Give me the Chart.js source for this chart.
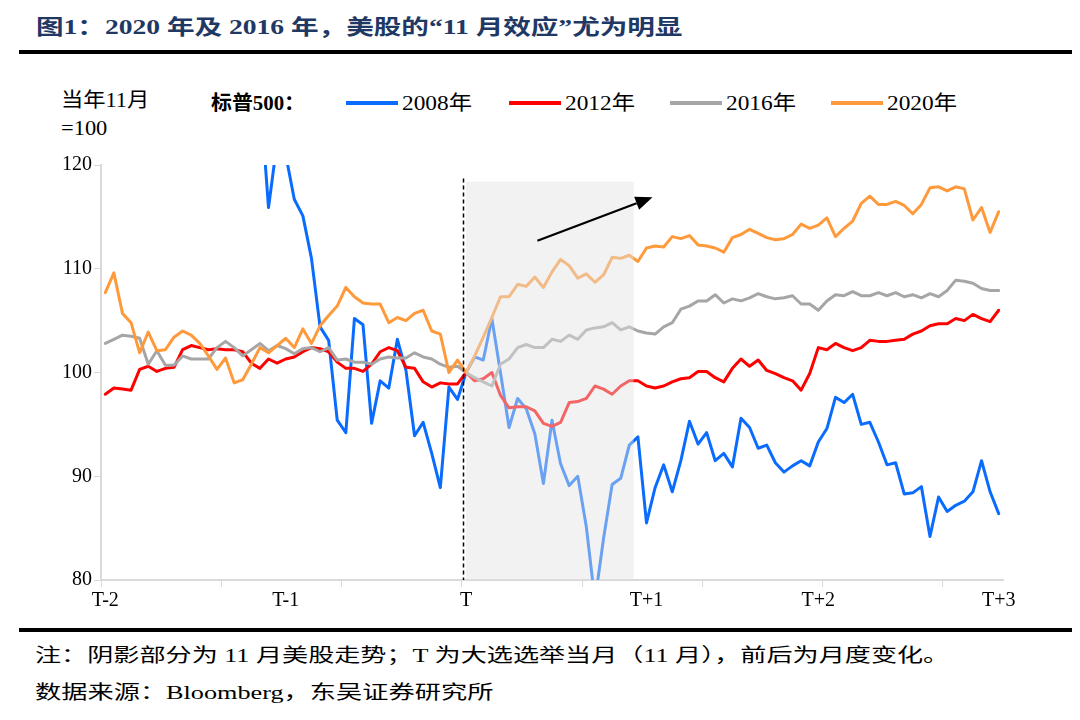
<!DOCTYPE html>
<html>
<head>
<meta charset="utf-8">
<script src="https://cdn.jsdelivr.net/npm/chart.js@4.4.0/dist/chart.umd.min.js"></script>
<style>
  body { margin: 0; background: #fff; }
  #wrap { position: relative; width: 1080px; height: 720px; overflow: hidden; font-family: "Liberation Serif", "Noto Sans CJK SC", serif; color: #000; }
  .txt { position: absolute; white-space: nowrap; transform-origin: 0 50%; line-height: 1; }
  .rule { position: absolute; left: 19px; width: 1053px; height: 4px; background: #000; }
  .key { position: absolute; height: 4px; top: 101px; width: 52px; }
  #chartBox { position: absolute; left: 0; top: 140px; width: 1080px; height: 480px; }
</style>
</head>
<body>
<div id="wrap">
  <div class="txt" data-x="36" data-y="27" data-w="646" style="font-size:21px;font-weight:bold;color:#1f3864;">图1：2020 年及 2016 年，美股的“11 月效应”尤为明显</div>
  <div class="rule" style="top:50px;"></div>
  <div class="txt" data-x="61" data-y="100" data-w="88" style="font-size:20px;">当年11月</div>
  <div class="txt" data-x="61" data-y="128" data-w="46" style="font-size:20px;">=100</div>
  <div class="txt" data-x="211" data-y="103" data-w="94" style="font-size:20px;font-weight:bold;">标普500：</div>
  <div id="legend"></div>
  <div id="chartBox"><canvas id="spxChart" width="1080" height="480"></canvas></div>
  <div class="rule" style="top:628px;"></div>
  <div class="txt" data-x="35" data-y="655" data-w="914" style="font-size:19px;">注：阴影部分为 11 月美股走势；T 为大选选举当月（11 月），前后为月度变化。</div>
  <div class="txt" data-x="35" data-y="692" data-w="458" style="font-size:19px;">数据来源：Bloomberg，东吴证券研究所</div>
</div>
<script>
// trading days from T-2 to T+3, index 42 = election month start (=100)
var dayCount = 105;
var tickLabels = ['T-2', 'T-1', 'T', 'T+1', 'T+2', 'T+3'];
var tickIndex = [0, 21, 42, 63, 83, 104];
var seriesNames = ['2008年', '2012年', '2016年', '2020年'];

var spx2008 = [
    133.8, 133.5, 129.5, 130.1, 132.8, 128.2, 129.0, 130.8, 131.1, 124.9,
    127.1, 121.1, 126.4, 131.4, 126.4, 124.4, 124.2, 126.6, 127.1, 115.9,
    122.2, 121.0, 116.7, 115.1, 111.0, 104.4, 103.1, 95.4, 94.2, 105.2,
    104.6, 95.1, 99.2, 98.5, 103.2, 100.2, 93.9, 95.2, 92.2, 88.9,
    98.6, 97.4, 100.0, 101.5, 101.2, 105.2, 100.0, 94.7, 97.5, 96.5,
    94.1, 89.3, 95.4, 91.2, 89.1, 90.0, 85.1, 78.0, 84.0, 89.2,
    89.8, 93.0, 93.8, 85.5, 88.9, 91.1, 88.5, 91.5, 95.3, 93.1,
    94.2, 91.5, 92.2, 90.9, 95.6, 94.7, 92.7, 93.0, 91.3, 90.4,
    91.0, 91.5, 91.0, 93.3, 94.6, 97.6, 97.1, 97.9, 95.0, 95.2,
    93.3, 91.1, 91.3, 88.3, 88.4, 89.0, 84.2, 88.0, 86.6, 87.2,
    87.6, 88.5, 91.5, 88.5, 86.4
];
var spx2012 = [
    97.9, 98.5, 98.4, 98.3, 100.3, 100.6, 100.1, 100.4, 100.5, 102.2,
    102.6, 102.4, 102.2, 102.3, 102.2, 102.2, 102.0, 100.9, 100.4, 101.3,
    100.9, 101.3, 101.5, 102.0, 102.4, 102.3, 102.0, 101.0, 100.4, 100.4,
    100.1, 100.8, 102.0, 102.4, 102.1, 100.5, 100.4, 99.1, 98.6, 99.0,
    98.9, 98.9, 100.0, 99.2, 99.4, 100.0, 97.8, 96.6, 96.7, 96.7,
    96.3, 95.1, 94.8, 95.2, 97.1, 97.2, 97.5, 98.7, 98.4, 97.9,
    98.7, 99.2, 99.2, 98.7, 98.5, 98.7, 99.1, 99.4, 99.5, 100.1,
    100.1, 99.5, 99.1, 100.4, 101.3, 100.6, 101.2, 100.2, 99.9, 99.5,
    99.2, 98.3, 99.9, 102.4, 102.2, 102.8, 102.4, 102.1, 102.4, 103.1,
    103.0, 103.0, 103.1, 103.2, 103.7, 104.0, 104.5, 104.7, 104.7, 105.2,
    105.0, 105.6, 105.2, 104.9, 106.0
];
var spx2016 = [
    102.8, 103.2, 103.6, 103.5, 103.3, 100.8, 102.1, 100.7, 100.7, 101.6,
    101.3, 101.3, 101.3, 102.4, 103.0, 102.4, 101.6, 102.2, 102.8, 102.1,
    102.6, 102.3, 101.8, 102.3, 102.4, 102.0, 102.4, 101.2, 101.3, 101.0,
    101.0, 100.8, 101.3, 101.5, 101.4, 101.4, 101.9, 101.5, 101.3, 100.8,
    100.5, 100.6, 100.0, 99.5, 99.1, 98.7, 100.8, 101.3, 102.4, 102.7,
    102.4, 102.4, 103.2, 103.0, 103.6, 103.2, 104.1, 104.3, 104.4, 104.8,
    104.1, 104.4, 104.0, 103.8, 103.7, 104.4, 104.8, 106.1, 106.4, 106.9,
    106.9, 107.5, 106.7, 107.1, 106.9, 107.2, 107.6, 107.3, 107.1, 107.2,
    107.4, 106.6, 106.6, 106.0, 106.9, 107.5, 107.4, 107.8, 107.4, 107.4,
    107.7, 107.4, 107.7, 107.3, 107.5, 107.2, 107.6, 107.3, 107.9, 108.9,
    108.8, 108.6, 108.1, 107.9, 107.9
];
var spx2020 = [
    107.7, 109.6, 105.7, 104.8, 101.9, 103.9, 102.1, 102.2, 103.4, 104.0,
    103.6, 102.8, 101.6, 100.3, 101.4, 99.0, 99.3, 100.8, 102.4, 101.9,
    102.6, 103.3, 102.4, 104.2, 102.8, 104.5, 105.5, 106.4, 108.2, 107.3,
    106.7, 106.6, 106.6, 104.8, 105.3, 105.0, 105.7, 106.0, 104.0, 103.7,
    100.0, 101.2, 100.0, 101.6, 103.4, 105.3, 107.3, 107.3, 108.5, 108.3,
    109.2, 108.2, 109.7, 110.9, 110.3, 109.1, 109.5, 108.7, 109.4, 111.1,
    111.0, 111.3, 110.7, 112.0, 112.2, 112.1, 113.1, 112.9, 113.2, 112.3,
    112.2, 112.0, 111.6, 113.0, 113.3, 113.8, 113.4, 113.0, 112.8, 112.9,
    113.3, 114.3, 113.9, 114.2, 114.9, 113.1, 113.9, 114.6, 116.3, 117.0,
    116.2, 116.2, 116.5, 116.1, 115.3, 116.2, 117.8, 117.9, 117.5, 117.9,
    117.7, 114.7, 115.9, 113.5, 115.5
];

// November window (shaded), election line and trend arrow, in data units
var shadeFrom = 42, shadeTo = 61.5, shadeTop = 118.4;
var electionAt = 41.65, electionTop = 118.7;
var arrowFrom = [50.3, 112.7], arrowTo = [63.7, 116.9];

var lineColors = ['#0a6cff', '#ff0000', '#a6a6a6', '#ff9a3c'];

var labels = [];
for (var i = 0; i < dayCount; i++) {
    var k = tickIndex.indexOf(i);
    labels.push(k >= 0 ? tickLabels[k] : '');
}

var novemberPlugin = {
    id: 'november',
    afterDatasetsDraw: function (chart) {
        var xs = chart.scales.x, ys = chart.scales.y, ctx = chart.ctx, area = chart.chartArea;
        ctx.save();
        // grey box over the lines
        var x0 = xs.getPixelForValue(shadeFrom), x1 = xs.getPixelForValue(shadeTo);
        var y0 = ys.getPixelForValue(shadeTop);
        ctx.fillStyle = 'rgba(226,226,226,0.45)';
        ctx.fillRect(x0, y0, x1 - x0, area.bottom - y0);

        // dashed election line
        var xd = Math.round(xs.getPixelForValue(electionAt)) + 0.5;
        ctx.setLineDash([4, 3]);
        ctx.lineWidth = 1.5;
        ctx.strokeStyle = '#000';
        ctx.beginPath();
        ctx.moveTo(xd, ys.getPixelForValue(electionTop));
        ctx.lineTo(xd, area.bottom);
        ctx.stroke();
        ctx.setLineDash([]);

        // arrow
        var ax = xs.getPixelForValue(arrowFrom[0]), ay = ys.getPixelForValue(arrowFrom[1]);
        var bx = xs.getPixelForValue(arrowTo[0]), by = ys.getPixelForValue(arrowTo[1]);
        var ang = Math.atan2(by - ay, bx - ax);
        var headLen = 17, headW = 7;
        var hx = bx - headLen * Math.cos(ang), hy = by - headLen * Math.sin(ang);
        ctx.lineWidth = 2.2;
        ctx.beginPath();
        ctx.moveTo(ax, ay);
        ctx.lineTo(hx, hy);
        ctx.stroke();
        ctx.fillStyle = '#000';
        ctx.beginPath();
        ctx.moveTo(bx, by);
        ctx.lineTo(hx + headW * Math.sin(ang), hy - headW * Math.cos(ang));
        ctx.lineTo(hx - headW * Math.sin(ang), hy + headW * Math.cos(ang));
        ctx.closePath();
        ctx.fill();
        ctx.restore();
    }
};

var allSeries = [spx2008, spx2012, spx2016, spx2020];
var datasets = allSeries.map(function (s, n) {
    return {
        label: seriesNames[n],
        data: s,
        borderColor: lineColors[n],
        backgroundColor: lineColors[n],
        borderWidth: 3,
        pointRadius: 0,
        tension: 0,
        borderJoinStyle: 'round',
        borderCapStyle: 'round',
        order: 3 - n
    };
});

// legend row
var legendX = [346, 509, 670, 831];
var legendBox = document.getElementById('legend');
datasets.forEach(function (d, n) {
    var key = document.createElement('div');
    key.className = 'key';
    key.style.left = legendX[n] + 'px';
    key.style.background = d.borderColor;
    legendBox.appendChild(key);
    var t = document.createElement('div');
    t.className = 'txt';
    t.style.fontSize = '20px';
    t.dataset.x = legendX[n] + 56;
    t.dataset.y = 103;
    t.dataset.w = 70;
    t.textContent = d.label;
    legendBox.appendChild(t);
});

function fitText() {
    document.querySelectorAll('.txt').forEach(function (el) {
        el.style.left = el.dataset.x + 'px';
        el.style.top = el.dataset.y + 'px';
        var k = (+el.dataset.w) / el.offsetWidth;
        el.style.transform = 'translateY(-50%) scaleX(' + k.toFixed(3) + ')';
    });
}

var tickFont = { family: "'Liberation Serif', serif", size: 20 };

var ctx = document.getElementById('spxChart').getContext('2d');
window.spxChart = new Chart(ctx, {
    type: 'line',
    data: { labels: labels, datasets: datasets },
    options: {
        responsive: false,
        animation: false,
        layout: { padding: { top: 25, right: 77, left: 0, bottom: 0 } },
        plugins: {
            legend: { display: false },
            tooltip: { enabled: false }
        },
        scales: {
            x: {
                offset: true,
                afterFit: function (scale) { scale.height = 40; },
                border: { color: '#d9d9d9', width: 2 },
                grid: {
                    offset: true,
                    drawOnChartArea: false,
                    tickLength: 7,
                    color: function (c) { return c.index % 14 === 0 ? '#d9d9d9' : 'rgba(0,0,0,0)'; }
                },
                ticks: { autoSkip: false, maxRotation: 0, color: '#000', font: tickFont, padding: 2 }
            },
            y: {
                min: 80,
                max: 120,
                afterFit: function (scale) { scale.width = 101; },
                border: { color: '#d9d9d9', width: 2 },
                grid: { drawOnChartArea: false, tickLength: 7, color: '#d9d9d9' },
                ticks: { stepSize: 10, color: '#000', font: tickFont, padding: 2 }
            }
        }
    },
    plugins: [novemberPlugin]
});

document.fonts.ready.then(fitText);
fitText();
</script>
</body>
</html>
